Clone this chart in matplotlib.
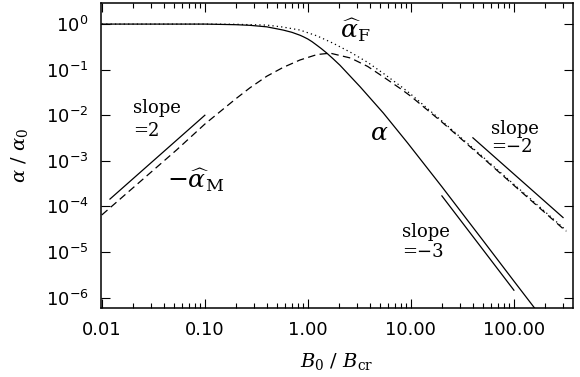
import numpy as np
import matplotlib
matplotlib.use('Agg')
import matplotlib.pyplot as plt
from matplotlib.ticker import FixedLocator, LogLocator, NullLocator, FormatStrFormatter

# values (B0/Bcr on x, alpha/alpha0 on y)
b_alpha = [0.01, 0.05, 0.1, 0.2, 0.274, 0.4, 0.575, 0.7, 0.838, 0.9, 1.0,
           1.1, 1.23, 1.35, 1.53, 1.75, 2.05, 3.22, 5.4, 9.25, 20, 50, 100,
           156, 250]
alpha = [1.0, 1.0, 1.0, 0.97, 0.94, 0.87, 0.74, 0.66, 0.57, 0.53, 0.47,
         0.41, 0.34, 0.29, 0.23, 0.175, 0.125, 0.042, 0.0112, 0.0025, 2.7e-4,
         1.8e-5, 2.3e-6, 6.2e-7, 1.5e-7]

b_f = [0.01, 0.1, 0.2, 0.4, 0.575, 0.838, 1.23, 1.76, 2.6, 3.8, 5.4, 7.9,
       9.9, 20, 50, 100, 200, 322]
alpha_f = [1.0, 1.0, 0.99, 0.95, 0.86, 0.74, 0.55, 0.38, 0.24, 0.145, 0.083,
           0.044, 0.0295, 7.5e-3, 1.22e-3, 3.05e-4, 7.7e-5, 2.97e-5]

b_m = [0.01, 0.0533, 0.1, 0.2, 0.274, 0.4, 0.575, 0.838, 1.23, 1.65, 2.6,
       3.8, 5.4, 7.9, 9.9, 20, 50, 100, 200, 322]
alpha_m = [6.5e-5, 1.74e-3, 6.4e-3, 0.023, 0.040, 0.072, 0.112, 0.163, 0.215,
           0.23, 0.18, 0.118, 0.0695, 0.0385, 0.0265, 7.1e-3, 1.16e-3, 2.9e-4,
           7.3e-5, 2.82e-5]

# short reference lines for the slopes
slope2_b = [0.012, 0.1]
slope2_y = [1.45e-4, 1.0e-2]
slopem2_b = [40, 300]
slopem2_y = [3.2e-3, 5.7e-5]
slopem3_b = [20, 100]
slopem3_y = [1.7e-4, 1.45e-6]

xticks = [0.01, 0.1, 1, 10, 100]
yticks = [1e0, 1e-1, 1e-2, 1e-3, 1e-4, 1e-5, 1e-6]

plt.rcParams['mathtext.fontset'] = 'dejavuserif'

fig = plt.figure(figsize=(5.8, 3.77), dpi=100)
ax = fig.add_axes([0.174, 0.183, 0.814, 0.809])

lw = 0.9
ax.plot(b_alpha, alpha, color='black', lw=lw)
ax.plot(b_f, alpha_f, color='black', lw=lw, linestyle=(0, (1, 2.5)))
ax.plot(b_m, alpha_m, color='black', lw=lw, linestyle=(0, (6, 3.5)))
ax.plot(slope2_b, slope2_y, color='black', lw=lw)
ax.plot(slopem2_b, slopem2_y, color='black', lw=lw)
ax.plot(slopem3_b, slopem3_y, color='black', lw=lw)

ax.set_xscale('log')
ax.set_yscale('log')
ax.set_xlim(0.0098, 375)
ax.set_ylim(5.9e-7, 2.9)

ax.xaxis.set_major_locator(FixedLocator(xticks))
ax.xaxis.set_major_formatter(FormatStrFormatter('%.2f'))
ax.xaxis.set_minor_locator(LogLocator(base=10, subs=np.arange(2, 10)))
ax.yaxis.set_major_locator(FixedLocator(yticks))
ax.yaxis.set_minor_locator(NullLocator())

ax.tick_params(which='both', direction='in', top=True, right=True, width=0.8)
ax.tick_params(which='major', length=6.5)
ax.tick_params(which='minor', length=3.5)
ax.tick_params(axis='x', labelsize=13, pad=9)
ax.tick_params(axis='y', labelsize=13, pad=9)
for s in ax.spines.values():
    s.set_linewidth(1.1)

ax.set_xlabel(r'$B_0\ /\ B_{\rm cr}$', fontsize=14)
ax.set_ylabel(r'$\alpha\ /\ \alpha_0$', fontsize=14)
ax.xaxis.set_label_coords(0.5, -0.14)
ax.yaxis.set_label_coords(-0.15, 0.5)

serif = {'family': 'DejaVu Serif', 'fontsize': 13}
ax.text(0.020, 0.0112, 'slope', **serif)
ax.text(0.020, 3.5e-3, '=2', **serif)
ax.text(59.6, 3.9e-3, 'slope', **serif)
ax.text(59.6, 1.56e-3, '=\u22122', **serif)
ax.text(8.28, 2.1e-5, 'slope', **serif)
ax.text(8.28, 7.8e-6, '=\u22123', **serif)

ax.text(2.07, 0.49, r'$\widehat{\alpha}_{\rm F}$', fontsize=18)
ax.text(4.04, 2.9e-3, r'$\alpha$', fontsize=18)
ax.text(0.0426, 2.5e-4, r'$-\widehat{\alpha}_{\rm M}$', fontsize=18)

fig.savefig('out.png', dpi=100)
